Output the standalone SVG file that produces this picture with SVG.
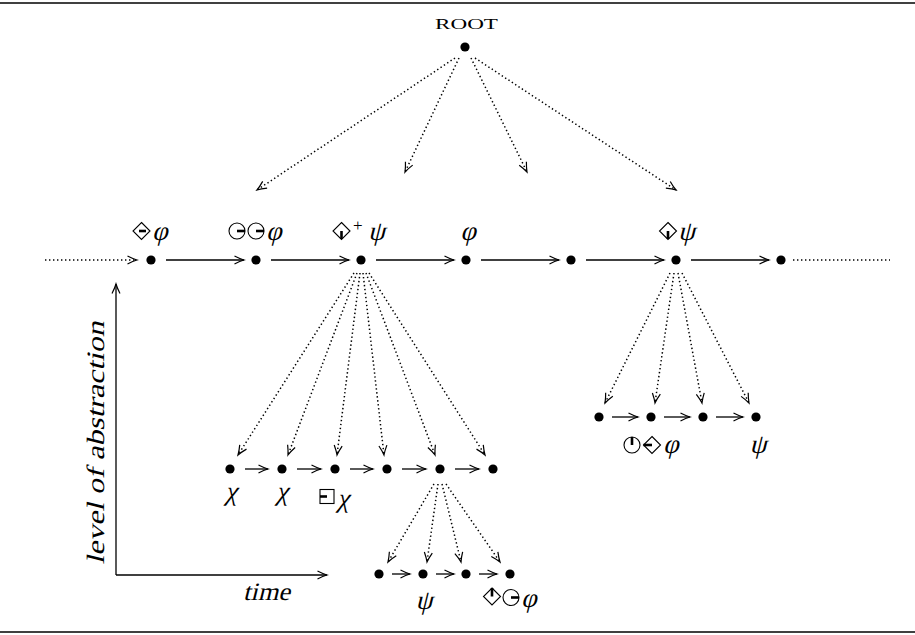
<svg xmlns="http://www.w3.org/2000/svg" xmlns:xlink="http://www.w3.org/1999/xlink" width="915" height="635" viewBox="0 0 915 635">
  <style>
    .rule { stroke: #000; stroke-width: 1.6; }
    .dot { fill: #000; }
    .solid { stroke: #000; stroke-width: 1.3; fill: none; marker-end: url(#head); }
    .dotted { stroke: #000; stroke-width: 1.5; fill: none; stroke-dasharray: 1.4 2.6; marker-end: url(#head); }
    .dotted.plain { marker-end: none; }
    .axis { stroke: #000; stroke-width: 1.3; fill: none; }
    .sym { stroke: #000; stroke-width: 1.1; fill: none; }
    .bar { stroke: #000; stroke-width: 2.6; }
    /* upright serif face, slanted with skewX where used */
    .math { font-family: "Liberation Serif", "Times New Roman", serif; font-size: 25px; fill: #000; }
    .greek { font-family: "Liberation Serif", "Times New Roman", serif; font-size: 27px; fill: #000; }
    .sup { font-family: "Liberation Serif", "Times New Roman", serif; font-size: 17px; fill: #000; }
    .sc { font-family: "Liberation Serif", "Times New Roman", serif; font-size: 15px; fill: #000; }
  </style>
  <defs>
    <marker id="head" viewBox="-11 -6 13 12" refX="0" refY="0" markerWidth="13" markerHeight="12" markerUnits="userSpaceOnUse" orient="auto">
      <path d="M-9.5,-4 Q-4,-1.2 0,0 Q-4,1.2 -9.5,4" fill="none" stroke="#000" stroke-width="1.2" stroke-dasharray="none"/>
    </marker>
    <path id="dia" class="sym" d="M0,-8.5 L8.5,0 L0,8.5 L-8.5,0 Z"/>
    <circle id="circ" class="sym" r="8"/>
    <rect id="sq" class="sym" x="-7" y="-7" width="14" height="14"/>
  </defs>

  <!-- frame rules -->
  <line class="rule" x1="0" y1="3" x2="915" y2="3"/>
  <line class="rule" x1="0" y1="632" x2="915" y2="632"/>

  <!-- connectors -->
  <g id="connectors">
    <!-- root to upper time line -->
    <line class="dotted" x1="455" y1="58" x2="257" y2="190"/>
    <line class="dotted" x1="459" y1="58" x2="405" y2="172"/>
    <line class="dotted" x1="471" y1="58" x2="527" y2="172"/>
    <line class="dotted" x1="475" y1="58" x2="676" y2="190"/>

    <!-- main time line -->
    <line class="dotted" x1="45" y1="260" x2="137" y2="260"/>
    <line class="solid" x1="166" y1="260" x2="244" y2="260"/>
    <line class="solid" x1="271" y1="260" x2="349" y2="260"/>
    <line class="solid" x1="376" y1="260" x2="454" y2="260"/>
    <line class="solid" x1="481" y1="260" x2="559" y2="260"/>
    <line class="solid" x1="586" y1="260" x2="664" y2="260"/>
    <line class="solid" x1="691" y1="260" x2="769" y2="260"/>
    <line class="dotted plain" x1="793" y1="260" x2="890" y2="260"/>

    <!-- refinement of the third state -->
    <line class="dotted" x1="354" y1="273" x2="238" y2="455"/>
    <line class="dotted" x1="357" y1="273" x2="288" y2="455"/>
    <line class="dotted" x1="360" y1="273" x2="337" y2="455"/>
    <line class="dotted" x1="363" y1="273" x2="384" y2="455"/>
    <line class="dotted" x1="366" y1="273" x2="435" y2="455"/>
    <line class="dotted" x1="369" y1="273" x2="485" y2="455"/>

    <line class="solid" x1="245" y1="469" x2="268" y2="469"/>
    <line class="solid" x1="297" y1="469" x2="321" y2="469"/>
    <line class="solid" x1="350" y1="469" x2="373" y2="469"/>
    <line class="solid" x1="402" y1="469" x2="426" y2="469"/>
    <line class="solid" x1="455" y1="469" x2="479" y2="469"/>

    <!-- refinement of the sixth state -->
    <line class="dotted" x1="670" y1="273" x2="605" y2="403"/>
    <line class="dotted" x1="674" y1="273" x2="655" y2="403"/>
    <line class="dotted" x1="678" y1="273" x2="702" y2="403"/>
    <line class="dotted" x1="682" y1="273" x2="749" y2="403"/>

    <line class="solid" x1="612" y1="417" x2="638" y2="417"/>
    <line class="solid" x1="664" y1="417" x2="690" y2="417"/>
    <line class="solid" x1="716" y1="417" x2="743" y2="417"/>

    <!-- refinement of the fifth sub-state -->
    <line class="dotted" x1="434" y1="484" x2="388" y2="562"/>
    <line class="dotted" x1="438" y1="484" x2="427" y2="562"/>
    <line class="dotted" x1="442" y1="484" x2="461" y2="562"/>
    <line class="dotted" x1="446" y1="484" x2="500" y2="562"/>

    <line class="solid" x1="392" y1="574" x2="410" y2="574"/>
    <line class="solid" x1="436" y1="574" x2="454" y2="574"/>
    <line class="solid" x1="479" y1="574" x2="497" y2="574"/>
  </g>

  <!-- root -->
  <g id="root">
    <text class="sc" x="435" y="29" textLength="63" lengthAdjust="spacingAndGlyphs">ROOT</text>
    <circle class="dot" cx="465" cy="47" r="4.6"/>
  </g>

  <!-- main time line states -->
  <g id="m1">
    <circle class="dot" cx="151" cy="260" r="4.6"/>
    <use xlink:href="#dia" x="141.5" y="231"/>
    <line class="bar" x1="139" y1="231" x2="146" y2="231"/>
    <text class="greek" transform="translate(152,240) skewX(-14)">φ</text>
  </g>
  <g id="m2">
    <circle class="dot" cx="256" cy="260" r="4.6"/>
    <use xlink:href="#circ" x="237" y="231"/>
    <line class="bar" x1="237" y1="231" x2="245" y2="231"/>
    <use xlink:href="#circ" x="256" y="231"/>
    <line class="bar" x1="256" y1="231" x2="264" y2="231"/>
    <text class="greek" transform="translate(266,240) skewX(-14)">φ</text>
  </g>
  <g id="m3">
    <circle class="dot" cx="361" cy="260" r="4.6"/>
    <use xlink:href="#dia" x="341.5" y="231"/>
    <line class="bar" x1="341.5" y1="231" x2="341.5" y2="239"/>
    <text class="sup" x="353" y="231">+</text>
    <text class="greek" transform="translate(368,240) skewX(-14)">ψ</text>
  </g>
  <g id="m4">
    <circle class="dot" cx="466" cy="260" r="4.6"/>
    <text class="greek" transform="translate(468,240) skewX(-14)" text-anchor="middle">φ</text>
  </g>
  <g id="m5">
    <circle class="dot" cx="571" cy="260" r="4.6"/>
  </g>
  <g id="m6">
    <circle class="dot" cx="676" cy="260" r="4.6"/>
    <use xlink:href="#dia" x="668" y="231"/>
    <line class="bar" x1="668" y1="231" x2="668" y2="239"/>
    <text class="greek" transform="translate(678,240) skewX(-14)">ψ</text>
  </g>
  <g id="m7">
    <circle class="dot" cx="781" cy="260" r="4.6"/>
  </g>

  <!-- sub-states of the third state -->
  <g id="a1">
    <circle class="dot" cx="230" cy="469" r="4.6"/>
    <text class="greek" transform="translate(231,500) skewX(-14)" text-anchor="middle">χ</text>
  </g>
  <g id="a2">
    <circle class="dot" cx="282" cy="469" r="4.6"/>
    <text class="greek" transform="translate(282,500) skewX(-14)" text-anchor="middle">χ</text>
  </g>
  <g id="a3">
    <circle class="dot" cx="335" cy="469" r="4.6"/>
    <use xlink:href="#sq" x="327" y="496.5"/>
    <line class="bar" x1="320" y1="496.5" x2="327" y2="496.5"/>
    <text class="greek" transform="translate(337,507) skewX(-14)">χ</text>
  </g>
  <g id="a4">
    <circle class="dot" cx="387" cy="469" r="4.6"/>
  </g>
  <g id="a5">
    <circle class="dot" cx="440" cy="469" r="4.6"/>
  </g>
  <g id="a6">
    <circle class="dot" cx="493" cy="469" r="4.6"/>
  </g>

  <!-- sub-states of the sixth state -->
  <g id="b1">
    <circle class="dot" cx="599" cy="417" r="4.6"/>
  </g>
  <g id="b2">
    <circle class="dot" cx="651" cy="417" r="4.6"/>
    <use xlink:href="#circ" x="632" y="445"/>
    <line class="bar" x1="632" y1="437" x2="632" y2="445"/>
    <use xlink:href="#dia" x="652" y="445"/>
    <line class="bar" x1="643.5" y1="445" x2="652" y2="445"/>
    <text class="greek" transform="translate(663,453) skewX(-14)">φ</text>
  </g>
  <g id="b3">
    <circle class="dot" cx="703" cy="417" r="4.6"/>
  </g>
  <g id="b4">
    <circle class="dot" cx="756" cy="417" r="4.6"/>
    <text class="greek" transform="translate(758,453) skewX(-14)" text-anchor="middle">ψ</text>
  </g>

  <!-- sub-states of the fifth sub-state -->
  <g id="c1">
    <circle class="dot" cx="379" cy="574" r="4.6"/>
  </g>
  <g id="c2">
    <circle class="dot" cx="423" cy="574" r="4.6"/>
    <text class="greek" transform="translate(424,609) skewX(-14)" text-anchor="middle">ψ</text>
  </g>
  <g id="c3">
    <circle class="dot" cx="466" cy="574" r="4.6"/>
  </g>
  <g id="c4">
    <circle class="dot" cx="510" cy="574" r="4.6"/>
    <use xlink:href="#dia" x="492" y="596.5"/>
    <line class="bar" x1="492" y1="588" x2="492" y2="596.5"/>
    <use xlink:href="#circ" x="511" y="597.5"/>
    <line class="bar" x1="511" y1="597.5" x2="519" y2="597.5"/>
    <text class="greek" transform="translate(521,607) skewX(-14)">φ</text>
  </g>

  <!-- axes -->
  <g id="axes">
    <line class="axis" x1="116" y1="575" x2="116" y2="284" marker-end="url(#head)"/>
    <line class="axis" x1="116" y1="575" x2="327" y2="575" marker-end="url(#head)"/>
    <text class="math" transform="translate(243,600) skewX(-14)" textLength="47" lengthAdjust="spacingAndGlyphs">time</text>
    <text class="math" transform="translate(104,443) rotate(-90) skewX(-14)" text-anchor="middle" textLength="243" lengthAdjust="spacingAndGlyphs">level of abstraction</text>
  </g>
</svg>
